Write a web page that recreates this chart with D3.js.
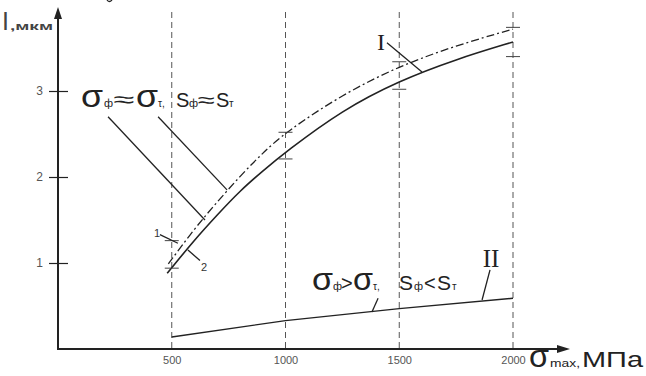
<!DOCTYPE html>
<html>
<head>
<meta charset="utf-8">
<script src="https://cdn.jsdelivr.net/npm/d3@7"></script>
<style>
  body { margin: 0; background: #fff; }
  svg { display: block; font-family: "Liberation Sans", Arial, sans-serif; }
</style>
</head>
<body>
<div id="chart"></div>
<script>
// stress (MPa) ticks and wear (мкм) ticks
const stressTicks = [500, 1000, 1500, 2000];
const wearTicks = [1, 2, 3];

// curve I, solid (experiment, 2) and dash-dot (calculation, 1)
const solidX = [480, 600, 700, 800, 900, 1000, 1250, 1500, 1750, 2000];
const solidY = [0.88, 1.27, 1.56, 1.84, 2.07, 2.29, 2.78, 3.12, 3.37, 3.57];
const dashX = [485, 600, 700, 800, 900, 1000, 1250, 1500, 1750, 2000];
const dashY = [0.99, 1.40, 1.71, 2.01, 2.28, 2.52, 2.96, 3.29, 3.53, 3.72];

// curve II
const lowX = [500, 1000, 1500, 2000];
const lowY = [0.14, 0.33, 0.47, 0.59];

// spread marks on curve I
const errLow = [0.94, 2.21, 3.02, 3.40];
const errHigh = [1.26, 2.52, 3.34, 3.74];

const width = 646, height = 376;

const svg = d3.select('#chart')
    .append('svg')
    .attr('width', width)
    .attr('height', height);

const x = d3.scaleLinear().domain([0, 2000]).range([58, 513]);
const y = d3.scaleLinear().domain([0, 4]).range([349, 5]);

const ink = '#222';

// dashed verticals
svg.selectAll('.grid')
    .data(stressTicks)
    .enter().append('line')
    .attr('class', 'grid')
    .attr('x1', d => x(d)).attr('x2', d => x(d))
    .attr('y1', 12).attr('y2', y(0))
    .attr('stroke', '#555')
    .attr('stroke-width', 1)
    .attr('stroke-dasharray', '6,4');

// axes
const yAxis = d3.axisLeft(y).tickValues(wearTicks).tickFormat(d3.format('d')).tickSize(9);
const gy = svg.append('g')
    .attr('transform', `translate(${x(0)},0)`)
    .call(yAxis);
gy.select('.domain').remove();
gy.selectAll('.tick line').attr('x2', 10).attr('x1', -9).attr('stroke', ink).attr('stroke-width', 1.2);
gy.selectAll('.tick text').attr('font-size', 12).attr('fill', '#555').attr('x', -15)
    .style('font-family', '"Liberation Sans", Arial, sans-serif');

const xAxis = d3.axisBottom(x).tickValues(stressTicks).tickFormat(d3.format('d')).tickSize(0).tickPadding(7);
const gx = svg.append('g')
    .attr('transform', `translate(0,${y(0)})`)
    .call(xAxis);
gx.select('.domain').remove();
gx.selectAll('.tick text').attr('font-size', 11).attr('fill', '#555')
    .style('font-family', '"Liberation Sans", Arial, sans-serif');

// axis lines with arrows
svg.append('line')
    .attr('x1', x(0)).attr('x2', x(0))
    .attr('y1', y(0) + 1).attr('y2', 14)
    .attr('stroke', ink).attr('stroke-width', 2);
svg.append('path')
    .attr('d', `M${x(0)},7 L${x(0) - 4},19 L${x(0) + 4},19 Z`)
    .attr('fill', ink);
svg.append('line')
    .attr('x1', x(0) - 1).attr('x2', 562)
    .attr('y1', y(0)).attr('y2', y(0))
    .attr('stroke', ink).attr('stroke-width', 2);
svg.append('path')
    .attr('d', `M570,${y(0)} L557,${y(0) - 4} L557,${y(0) + 4} Z`)
    .attr('fill', ink);

// curves
const line = d3.line()
    .x(d => x(d[0]))
    .y(d => y(d[1]))
    .curve(d3.curveBasis);

svg.append('path')
    .datum(d3.zip(dashX, dashY))
    .attr('d', line)
    .attr('fill', 'none')
    .attr('stroke', ink)
    .attr('stroke-width', 1.3)
    .attr('stroke-dasharray', '8,3,2,3');

svg.append('path')
    .datum(d3.zip(solidX, solidY))
    .attr('d', line)
    .attr('fill', 'none')
    .attr('stroke', ink)
    .attr('stroke-width', 1.6);

svg.append('path')
    .datum(d3.zip(lowX, lowY))
    .attr('d', d3.line().x(d => x(d[0])).y(d => y(d[1])))
    .attr('fill', 'none')
    .attr('stroke', ink)
    .attr('stroke-width', 1.4);

// spread caps
const caps = stressTicks.flatMap((s, i) => [[s, errLow[i]], [s, errHigh[i]]]);
svg.selectAll('.cap')
    .data(caps)
    .enter().append('line')
    .attr('class', 'cap')
    .attr('x1', d => x(d[0]) - 7).attr('x2', d => x(d[0]) + 7)
    .attr('y1', d => y(d[1])).attr('y2', d => y(d[1]))
    .attr('stroke', '#444')
    .attr('stroke-width', 1);

// leader lines (in data units)
const leaders = [
    [220, 2.70, 646, 1.50],
    [440, 2.70, 743, 1.85],
    [448, 1.33, 527, 1.23],
    [571, 1.15, 624, 1.03],
    [1446, 3.56, 1600, 3.22],
    [1899, 0.92, 1864, 0.57],
    [1407, 0.59, 1380, 0.43]
];
svg.selectAll('.leader')
    .data(leaders)
    .enter().append('line')
    .attr('class', 'leader')
    .attr('x1', d => x(d[0])).attr('y1', d => y(d[1]))
    .attr('x2', d => x(d[2])).attr('y2', d => y(d[3]))
    .attr('stroke', ink)
    .attr('stroke-width', 1.3);

// labels
function label(parts, baseline, color) {
    const t = svg.append('text').attr('y', baseline).attr('fill', color || ink);
    parts.forEach(p => {
        const s = t.append('tspan')
            .attr('x', p.x)
            .attr('font-size', p.size)
            .text(p.t);
        if (p.w) s.attr('textLength', p.w).attr('lengthAdjust', 'spacingAndGlyphs');
        if (p.bold) s.attr('font-weight', 'bold');
    });
    return t;
}

label([
    { t: 'σ', x: 81, size: 32, w: 22 },
    { t: 'ф', x: 104, size: 11 },
    { t: '≈', x: 113, size: 22, w: 21 },
    { t: 'σ', x: 136, size: 32, w: 22 },
    { t: 'τ,', x: 158, size: 10 },
    { t: 'S', x: 176, size: 20 },
    { t: 'ф', x: 189, size: 11 },
    { t: '≈', x: 198, size: 20, w: 17 },
    { t: 'S', x: 216, size: 20 },
    { t: 'т', x: 229, size: 10 }
], 107);

label([
    { t: 'σ', x: 312, size: 32, w: 21 },
    { t: 'ф', x: 333, size: 11 },
    { t: '>', x: 341, size: 20 },
    { t: 'σ', x: 353, size: 32, w: 20 },
    { t: 'τ,', x: 373, size: 10 },
    { t: 'S', x: 399, size: 21 },
    { t: 'ф', x: 414, size: 11 },
    { t: '<', x: 424, size: 20 },
    { t: 'S', x: 437, size: 21 },
    { t: 'т', x: 452, size: 10 }
], 290);

label([
    { t: 'I', x: 2, size: 25 },
    { t: ',мкм', x: 10, size: 11, w: 43, bold: true }
], 30, '#444');

label([
    { t: 'σ', x: 529, size: 32, w: 20 },
    { t: 'max,', x: 550, size: 10, w: 30 },
    { t: 'МПа', x: 582, size: 22, w: 61 }
], 367);

svg.append('text').attr('x', 157).attr('y', 237).attr('font-size', 11).attr('fill', '#333')
    .attr('text-anchor', 'middle').text('1');
svg.append('text').attr('x', 204).attr('y', 271).attr('font-size', 11).attr('fill', '#333')
    .attr('text-anchor', 'middle').text('2');

svg.append('text').attr('x', 381).attr('y', 50).attr('font-size', 24)
    .attr('text-anchor', 'middle').attr('fill', ink)
    .style('font-family', '"Liberation Serif", "Times New Roman", serif').text('I');
svg.append('text').attr('x', 491).attr('y', 267).attr('font-size', 25)
    .attr('text-anchor', 'middle').attr('fill', ink)
    .style('font-family', '"Liberation Serif", "Times New Roman", serif').text('II');

// stray stroke at the top edge (cut off in the source)
svg.append('path')
    .attr('d', 'M107,0 Q109,3 112,0')
    .attr('fill', 'none')
    .attr('stroke', ink)
    .attr('stroke-width', 1.3);
</script>
</body>
</html>
